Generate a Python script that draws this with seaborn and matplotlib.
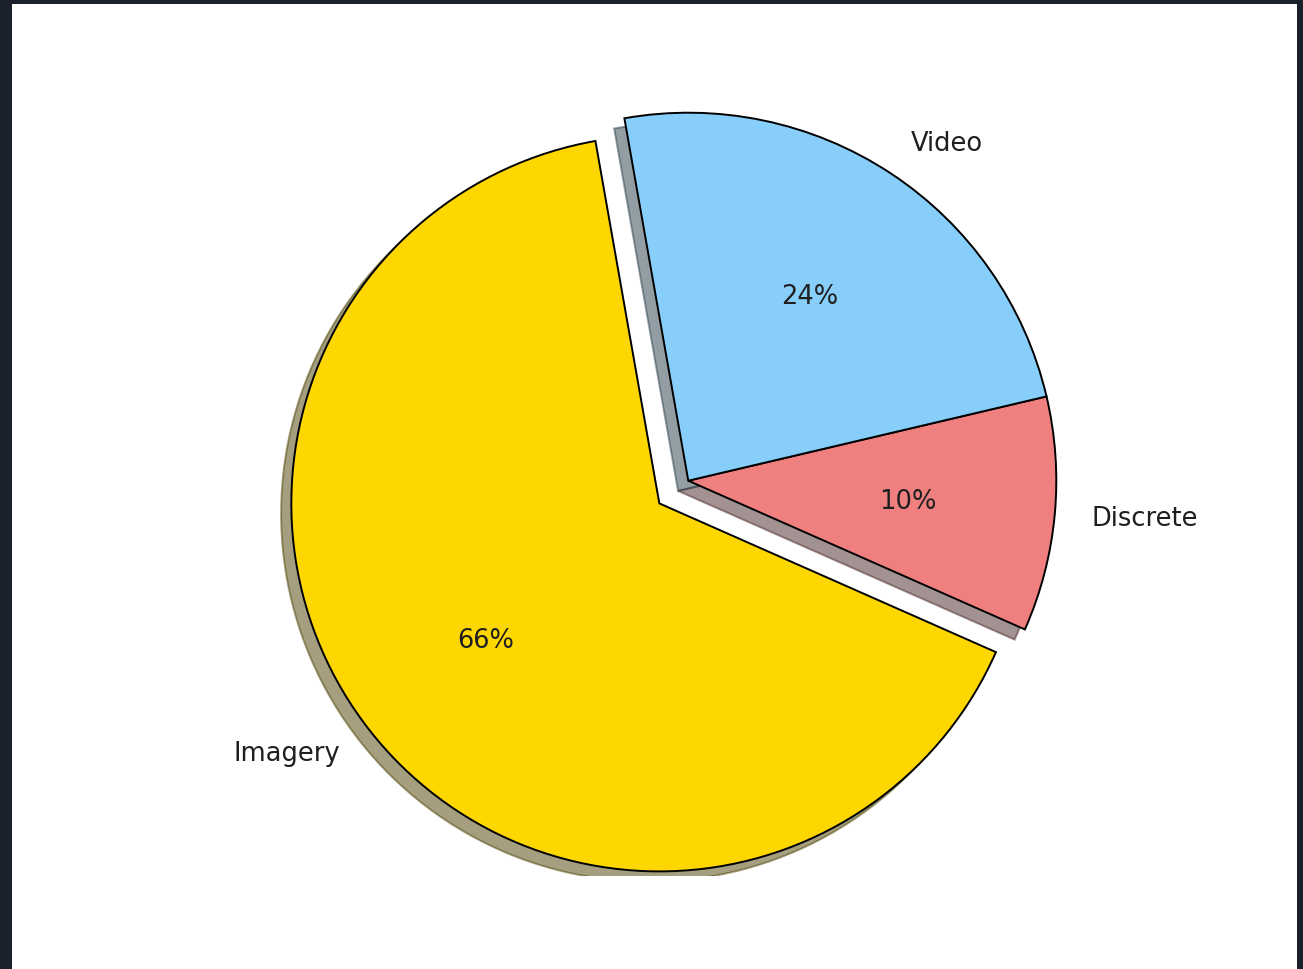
import matplotlib
matplotlib.use("Agg")
import matplotlib.pyplot as plt
import seaborn as sns
from matplotlib.patches import Rectangle

# ---- data ----
labels = ["Imagery", "Discrete", "Video"]
values = [65.6, 10.3, 24.1]
colors = ["#FFD700", "#F08080", "#87CEFA"]
explode = [0.1, 0, 0]

sns.set_theme(style="white")
plt.rcParams["font.family"] = ["DejaVu Sans"]

W, H = 1303, 970
fig = plt.figure(figsize=(W / 100, H / 100), dpi=100)
fig.patch.set_facecolor("#1a212c")
fig.patches.append(Rectangle((12 / W, 0), 1285 / W, 965 / H, transform=fig.transFigure,
                             facecolor="white", edgecolor="none", zorder=-10))

# pie geometry in pixels (image coords, y down)
cx, cy, r = 688.3, 481.7, 368.0
L, R, T, B = 14, 1295, 8, 877
ax = fig.add_axes([L / W, (H - B) / H, (R - L) / W, (B - T) / H])
ax.set_zorder(5)
ax.set_facecolor("none")

ax.pie(values, labels=labels, colors=colors, explode=explode, startangle=100,
       autopct="%1.0f%%", shadow=True, frame=False,
       wedgeprops=dict(edgecolor="black", linewidth=1.4),
       textprops=dict(fontsize=18.5, color=".12"))

for p in ax.patches:
    p.set_clip_on(True)
    p.set_clip_path(ax.patch)

ax.set_xlim((L - cx) / r, (R - cx) / r)
ax.set_ylim((cy - B) / r, (cy - T) / r)
ax.set_aspect("auto")
ax.set_xticks([])
ax.set_yticks([])
for s in ax.spines.values():
    s.set_visible(False)

fig.savefig("out.png", dpi=100, facecolor=fig.get_facecolor())
